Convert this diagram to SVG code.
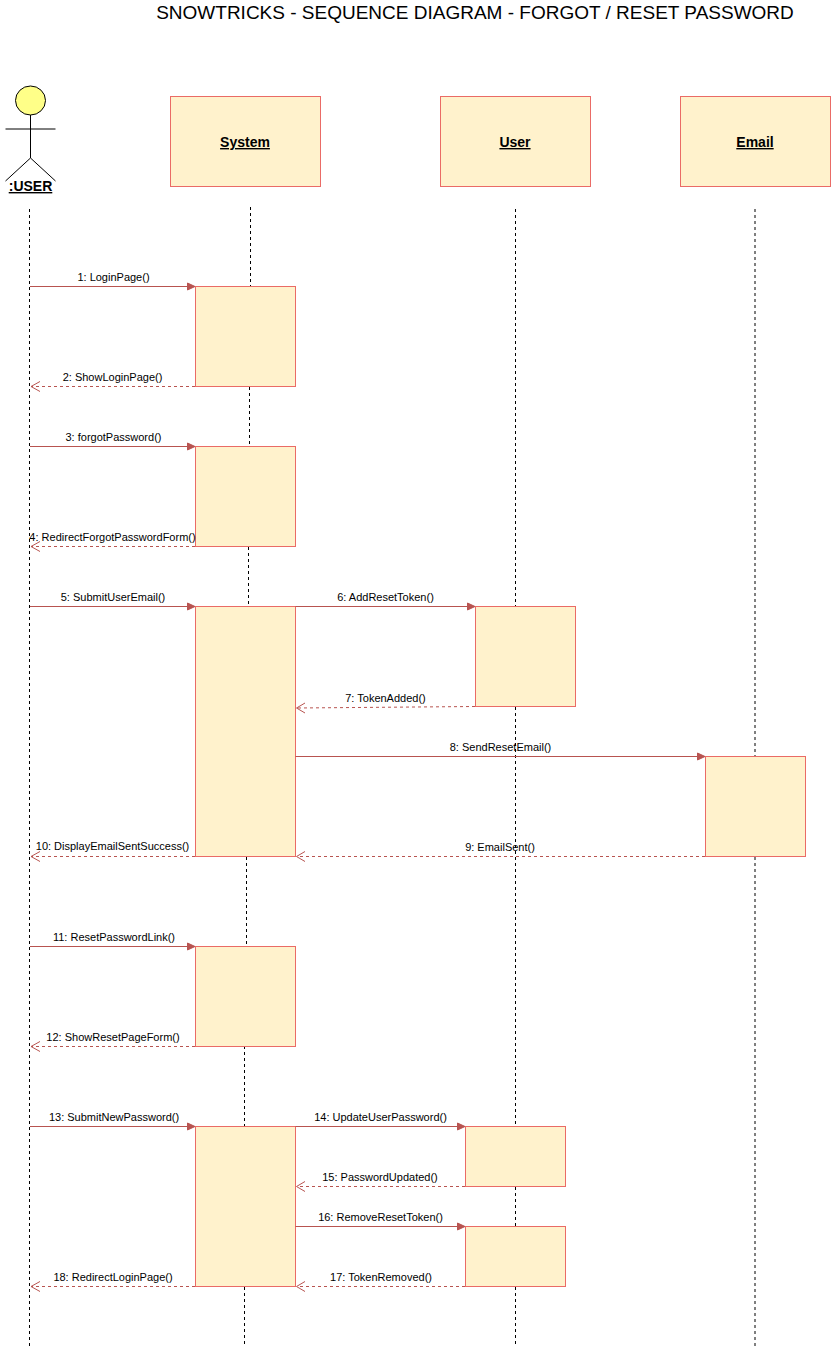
<svg xmlns="http://www.w3.org/2000/svg" width="836" height="1348" viewBox="0 0 836 1348">
<style>
text{font-family:"Liberation Sans",Arial,sans-serif;fill:#000}
.t{font-size:11px;text-anchor:middle}
.h{font-size:14px;font-weight:bold;text-anchor:middle;text-decoration:underline}
.box{fill:#fff2cc;stroke:#ea6b66;stroke-width:1}
.life{fill:none;stroke:#000;stroke-width:1;stroke-dasharray:3 3}
.call{fill:none;stroke:#b85450;stroke-width:1}
.ret{fill:none;stroke:#b85450;stroke-width:1;stroke-dasharray:3 3}
.ah{fill:#b85450;stroke:#b85450}
.oh{fill:none;stroke:#b85450;stroke-width:1}
</style>
<rect width="836" height="1348" fill="#fff"/>
<text x="475" y="19" font-size="19" text-anchor="middle">SNOWTRICKS - SEQUENCE DIAGRAM - FORGOT / RESET PASSWORD</text>
<g id="lifelines">
<path class="life" d="M29.5 209V1346"/>
<path class="life" d="M250.500 207V286M249.500 387V446M248.500 547V606M246.500 857V946M244.500 1046V1126M244.500 1287V1346"/>
<path class="life" d="M515.500 209V606M515.500 707V1126M515.500 1187V1226M515.500 1287V1346"/>
<path class="life" d="M755 209V756M755 857V1346"/>
</g>
<g id="actor-user">
<ellipse cx="30.500" cy="100.500" rx="15" ry="14.500" fill="#ffff88" stroke="#000"/>
<path d="M30.500 115V158M5.500 129H55.500M5.500 181L30.500 158L55.500 181" fill="none" stroke="#000"/>
<text class="h" x="30.500" y="191">:USER</text>
</g>
<g id="node-system"><rect class="box" x="170.500" y="96.500" width="150" height="90"/><text class="h" x="245" y="147">System</text></g>
<g id="node-user"><rect class="box" x="440.500" y="96.500" width="150" height="90"/><text class="h" x="515" y="147">User</text></g>
<g id="node-email"><rect class="box" x="680.500" y="96.500" width="150" height="90"/><text class="h" x="755" y="147">Email</text></g>
<g id="activations">
<rect id="act-1" class="box" x="195.500" y="286.500" width="100" height="100"/>
<rect id="act-2" class="box" x="195.500" y="446.500" width="100" height="100"/>
<rect id="act-3" class="box" x="195.500" y="606.500" width="100" height="250"/>
<rect id="act-4" class="box" x="475.500" y="606.500" width="100" height="100"/>
<rect id="act-5" class="box" x="705.500" y="756.500" width="100" height="100"/>
<rect id="act-6" class="box" x="195.500" y="946.500" width="100" height="100"/>
<rect id="act-7" class="box" x="195.500" y="1126.500" width="100" height="160"/>
<rect id="act-8" class="box" x="465.500" y="1126.500" width="100" height="60"/>
<rect id="act-9" class="box" x="465.500" y="1226.500" width="100" height="60"/>
</g>
<g id="connectors">
<path class="call" d="M30 286.500H188"/><path class="ah" d="M195 286.500L187.500 283V290Z"/>
<path class="ret" d="M195 386.500H31"/><path class="oh" d="M40 381.500L31 386.500L40 391.500"/>
<path class="call" d="M30 446.500H188"/><path class="ah" d="M195 446.500L187.500 443V450Z"/>
<path class="ret" d="M195 546.500H31"/><path class="oh" d="M40 541.500L31 546.500L40 551.500"/>
<path class="call" d="M30 606.500H188"/><path class="ah" d="M195 606.500L187.500 603V610Z"/>
<path class="call" d="M295.500 606.500H468"/><path class="ah" d="M475 606.500L467.500 603V610Z"/>
<path class="ret" d="M475 706.500L297 708"/><path class="oh" d="M305 703L296.500 708L305 713"/>
<path class="call" d="M295.500 756.500H698"/><path class="ah" d="M705 756.500L697.500 753V760Z"/>
<path class="ret" d="M705 856.500H297"/><path class="oh" d="M305 851.500L296.500 856.500L305 861.500"/>
<path class="ret" d="M195 856.500H31"/><path class="oh" d="M40 851.500L31 856.500L40 861.500"/>
<path class="call" d="M30 946.500H188"/><path class="ah" d="M195 946.500L187.500 943V950Z"/>
<path class="ret" d="M195 1046.500H31"/><path class="oh" d="M40 1041.500L31 1046.500L40 1051.500"/>
<path class="call" d="M30 1126.500H188"/><path class="ah" d="M195 1126.500L187.500 1123V1130Z"/>
<path class="call" d="M295.500 1126.500H458"/><path class="ah" d="M465 1126.500L457.500 1123V1130Z"/>
<path class="ret" d="M465 1186.500H297"/><path class="oh" d="M305 1181.500L296.500 1186.500L305 1191.500"/>
<path class="call" d="M295.500 1226.500H458"/><path class="ah" d="M465 1226.500L457.500 1223V1230Z"/>
<path class="ret" d="M465 1286.500H297"/><path class="oh" d="M305 1281.500L296.500 1286.500L305 1291.500"/>
<path class="ret" d="M195 1286.500H31"/><path class="oh" d="M40 1281.500L31 1286.500L40 1291.500"/>
</g>
<g id="labels">
<text class="t" x="113.500" y="281">1: LoginPage()</text>
<text class="t" x="112.500" y="381">2: ShowLoginPage()</text>
<text class="t" x="113.500" y="441">3: forgotPassword()</text>
<text class="t" x="112.500" y="541">4: RedirectForgotPasswordForm()</text>
<text class="t" x="113" y="601">5: SubmitUserEmail()</text>
<text class="t" x="385.500" y="601">6: AddResetToken()</text>
<text class="t" x="385.500" y="702">7: TokenAdded()</text>
<text class="t" x="500.500" y="751">8: SendResetEmail()</text>
<text class="t" x="500" y="851">9: EmailSent()</text>
<text class="t" x="112.500" y="850">10: DisplayEmailSentSuccess()</text>
<text class="t" x="114" y="941">11: ResetPasswordLink()</text>
<text class="t" x="113" y="1041">12: ShowResetPageForm()</text>
<text class="t" x="114" y="1121">13: SubmitNewPassword()</text>
<text class="t" x="380.500" y="1121">14: UpdateUserPassword()</text>
<text class="t" x="380" y="1181">15: PasswordUpdated()</text>
<text class="t" x="380.500" y="1221">16: RemoveResetToken()</text>
<text class="t" x="381" y="1281">17: TokenRemoved()</text>
<text class="t" x="113" y="1281">18: RedirectLoginPage()</text>
</g>
</svg>
